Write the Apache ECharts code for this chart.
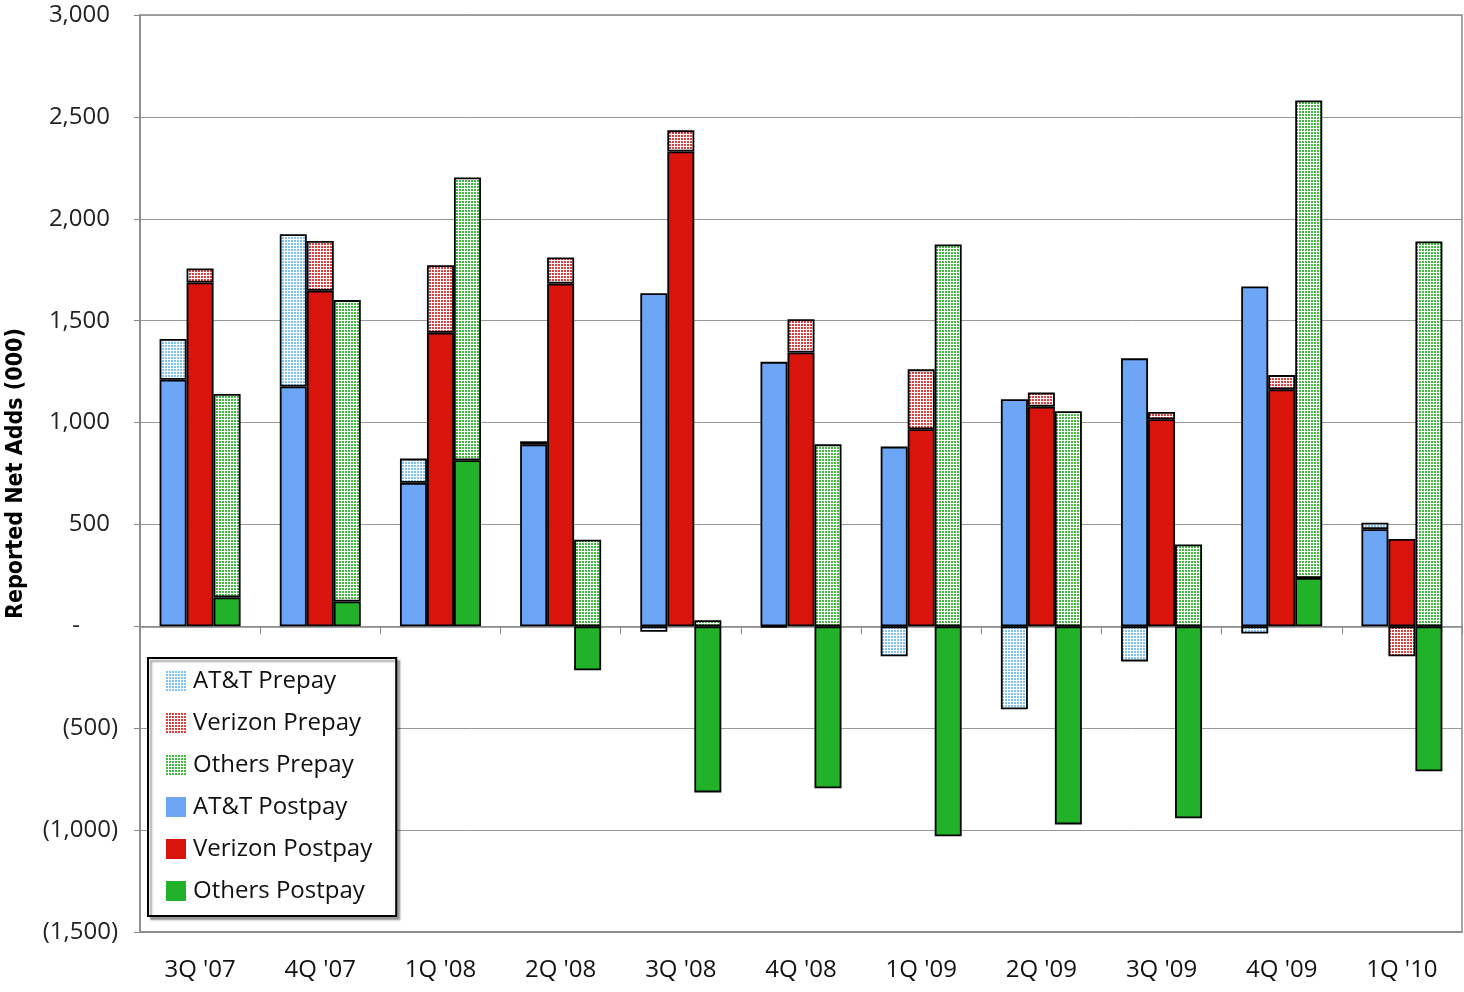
<!DOCTYPE html>
<html><head><meta charset="utf-8">
<script src="https://cdn.jsdelivr.net/npm/echarts@6/dist/echarts.min.js"></script>
<style>html,body{margin:0;padding:0;background:#fff}#c{width:1464px;height:992px}</style>
</head><body><div id="c"></div>
<script>
const categories = ["3Q '07","4Q '07","1Q '08","2Q '08","3Q '08","4Q '08","1Q '09","2Q '09","3Q '09","4Q '09","1Q '10"];
const attPostpay = [1210, 1177, 704, 893, 1635, 1298, 882, 1114, 1315, 1668, 477];
const vzPostpay  = [1687, 1647, 1441, 1682, 2330, 1344, 967, 1078, 1016, 1163, 429];
const othPostpay = [142, 122, 815, -216, -815, -795, -1030, -972, -942, 237, -711];
const attPrepay  = [200, 747, 119, 15, -27, -5, -147, -407, -172, -35, 31];
const vzPrepay   = [69, 244, 331, 128, 104, 163, 294, 69, 36, 70, -147];
const othPrepay  = [998, 1479, 1388, 425, 30, 893, 1874, 1056, 402, 2344, 1889];
const yTicks = {min: -1500, max: 3000, step: 500};

function pattern(col) {
  const c = document.createElement('canvas');
  c.width = 3; c.height = 3;
  const g = c.getContext('2d');
  g.fillStyle = '#ffffff'; g.fillRect(0, 0, 3, 3);
  g.fillStyle = col; g.fillRect(0, 0, 2, 2);
  return {image: c, repeat: 'repeat'};
}
const C = {
  attPost: '#6ea6f6', vzPost: '#d9140d', othPost: '#22b22a',
  attPre: pattern('#7cc2f2'), vzPre: pattern('#e03c3c'), othPre: pattern('#40bb40')
};
const fmt = v => Math.abs(v).toLocaleString('en-US');
const FONT = '"Open Sans", Lato, sans-serif';
const bw = 27;
function bar(name, data, stack, color) {
  return {
    name, type: 'bar', stack, data, barWidth: bw, barGap: '0%',
    itemStyle: {color, borderColor: '#000', borderWidth: 1.8},
    emphasis: {disabled: true}
  };
}
const chart = echarts.init(document.getElementById('c'), null, {renderer: 'canvas'});
chart.setOption({
  animation: false,
  backgroundColor: '#fff',
  grid: {left: 140, right: 2, top: 15, bottom: 60, show: true, borderColor: '#888', borderWidth: 1.5, outerBoundsMode: 'none', containLabel: false},
  legend: {
    orient: 'vertical', left: 148, top: 658,
    icon: 'rect',
    data: ['AT&T Prepay','Verizon Prepay','Others Prepay','AT&T Postpay','Verizon Postpay','Others Postpay'],
    itemWidth: 20, itemHeight: 20, itemGap: 18, padding: [11, 24, 13, 18],
    backgroundColor: '#fff', borderColor: '#000', borderWidth: 2,
    shadowColor: 'rgba(0,0,0,0.35)', shadowOffsetX: 3, shadowOffsetY: 3, shadowBlur: 2,
    textStyle: {fontFamily: FONT, fontSize: 24, color: '#111', padding: [0,0,0,2]},
    itemStyle: {borderWidth: 0},
    selectedMode: false
  },
  xAxis: [{
    type: 'category', data: categories, position: 'bottom',
    axisLine: {onZero: false, show: true, lineStyle: {color: '#888', width: 1.5}},
    axisTick: {show: false},
    axisLabel: {fontFamily: FONT, fontSize: 24, color: '#111', margin: 26}
  }, {
    type: 'category', data: categories, position: 'top',
    axisLine: {onZero: true, show: true, lineStyle: {color: '#888', width: 1.5}},
    axisTick: {show: true, inside: true, length: 8, lineStyle: {color: '#888'}},
    axisLabel: {show: false}
  }],
  yAxis: {
    type: 'value', min: yTicks.min, max: yTicks.max, interval: yTicks.step,
    name: 'Reported Net Adds (000)', nameLocation: 'middle', nameGap: 112,
    nameTextStyle: {fontFamily: '"Liberation Sans Narrow", "DejaVu Sans Condensed", sans-serif', fontWeight: 'bold', fontSize: 23, color: '#000'},
    axisLine: {show: true, lineStyle: {color: '#888', width: 1.5}},
    axisTick: {show: true, length: 6, lineStyle: {color: '#888'}},
    splitLine: {lineStyle: {color: '#999', width: 1}},
    axisLabel: {
      fontFamily: FONT, fontSize: 24, color: '#222', margin: 22,
      formatter: v => v === 0 ? '{z|-}' : (v < 0 ? '{n|(' + fmt(v) + ')}' : '{p|' + fmt(v) + '}'),
      rich: {
        z: {fontFamily: FONT, fontSize: 24, color: '#222', padding: [0, 38, 0, 0]},
        n: {fontFamily: FONT, fontSize: 24, color: '#222'},
        p: {fontFamily: FONT, fontSize: 24, color: '#222', padding: [0, 8, 0, 0]}
      }
    }
  },
  series: [
    bar('AT&T Postpay', attPostpay, 'att', C.attPost),
    bar('Verizon Postpay', vzPostpay, 'vz', C.vzPost),
    bar('Others Postpay', othPostpay, 'oth', C.othPost),
    bar('AT&T Prepay', attPrepay, 'att', C.attPre),
    bar('Verizon Prepay', vzPrepay, 'vz', C.vzPre),
    bar('Others Prepay', othPrepay, 'oth', C.othPre)
  ]
});
</script></body></html>
